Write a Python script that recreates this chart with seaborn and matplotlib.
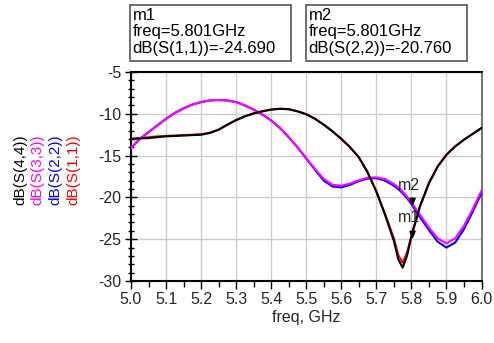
import numpy as np
import pandas as pd
import matplotlib
matplotlib.use("Agg")
import matplotlib.pyplot as plt
from matplotlib.patches import Rectangle
from matplotlib.ticker import MultipleLocator
import seaborn as sns

# ---------------- data ----------------
freq = [5.000, 5.025, 5.050, 5.075, 5.100, 5.125, 5.150, 5.175, 5.200, 5.225,
        5.250, 5.275, 5.300, 5.325, 5.350, 5.375, 5.400, 5.425, 5.450, 5.475,
        5.500, 5.525, 5.550, 5.575, 5.600, 5.625, 5.650, 5.675, 5.700, 5.725,
        5.750, 5.7625, 5.775, 5.7875, 5.800, 5.825, 5.850, 5.875, 5.900, 5.925,
        5.950, 5.975, 6.000]

s11 = [-13.0, -12.9, -12.8, -12.7, -12.65, -12.6, -12.55, -12.5, -12.45, -12.25,
       -11.9, -11.3, -10.75, -10.3, -9.95, -9.7, -9.5, -9.4, -9.45, -9.7,
       -10.05, -10.6, -11.3, -12.1, -13.0, -14.0, -15.2, -17.0, -19.3, -22.0,
       -24.9, -26.9, -27.8, -26.6, -24.7, -21.0, -18.3, -16.3, -14.9, -13.9,
       -13.1, -12.4, -11.7]

s44 = [-13.0, -12.95, -12.9, -12.8, -12.7, -12.65, -12.6, -12.55, -12.5, -12.3,
       -11.9, -11.3, -10.75, -10.3, -9.95, -9.7, -9.5, -9.4, -9.45, -9.7,
       -10.05, -10.6, -11.3, -12.1, -13.0, -14.0, -15.2, -17.0, -19.3, -22.1,
       -25.2, -27.4, -28.4, -27.0, -24.6, -21.0, -18.3, -16.3, -14.9, -13.9,
       -13.1, -12.4, -11.7]

s33 = [-14.1, -13.0, -12.2, -11.4, -10.6, -9.9, -9.35, -8.9, -8.6, -8.4,
       -8.35, -8.4, -8.6, -9.0, -9.5, -10.1, -10.8, -11.7, -12.8, -14.0,
       -15.3, -16.6, -17.8, -18.5, -18.6, -18.35, -17.95, -17.65, -17.6, -17.8,
       -18.4, -18.8, -19.3, -19.9, -20.6, -22.1, -23.6, -24.9, -25.5, -24.9,
       -23.4, -21.4, -19.2]

s22 = [-14.1, -13.0, -12.2, -11.4, -10.6, -9.9, -9.35, -8.9, -8.6, -8.4,
       -8.35, -8.4, -8.6, -9.0, -9.5, -10.1, -10.8, -11.7, -12.8, -14.0,
       -15.35, -16.7, -18.0, -18.7, -18.8, -18.5, -18.05, -17.75, -17.7, -18.0,
       -18.6, -19.0, -19.5, -20.1, -20.8, -22.4, -23.9, -25.3, -26.0, -25.4,
       -23.8, -21.7, -19.5]

series_names = ["dB(S(1,1))", "dB(S(2,2))", "dB(S(3,3))", "dB(S(4,4))"]
series_colors = ["#ff0000", "#0000ff", "#ff00ff", "#000000"]

marker_names = ["m1", "m2"]
marker_freq = [5.801, 5.801]
marker_vals = [-24.690, -20.760]
marker_traces = ["dB(S(1,1))", "dB(S(2,2))"]

x_ticks = [5.0, 5.1, 5.2, 5.3, 5.4, 5.5, 5.6, 5.7, 5.8, 5.9, 6.0]
y_ticks = [-30, -25, -20, -15, -10, -5]

# ---------------- figure ----------------
sns.set_theme(style="white")
plt.rcParams["font.family"] = ["Liberation Sans", "DejaVu Sans"]

W, H = 494, 343
fig = plt.figure(figsize=(W / 100, H / 100), dpi=100)
ax = fig.add_axes([131 / W, 1 - 281 / H, 350.5 / W, 209 / H])

df = pd.DataFrame({
    "freq": np.tile(freq, 4),
    "val": np.concatenate([s11, s22, s33, s44]),
    "trace": np.repeat(series_names, len(freq)),
})
palette = dict(zip(series_names, series_colors))
sns.lineplot(data=df, x="freq", y="val", hue="trace", hue_order=series_names,
             palette=palette, linewidth=1.5, legend=False, ax=ax, zorder=3)

ax.set_xlim(5.0, 6.0)
ax.set_ylim(-30, -5)
ax.set_xticks(x_ticks)
ax.set_xticklabels([f"{t:.1f}" for t in x_ticks])
ax.set_yticks(y_ticks)
ax.set_yticklabels([str(t) for t in y_ticks])
ax.xaxis.set_minor_locator(MultipleLocator(0.05))
ax.yaxis.set_minor_locator(MultipleLocator(1))
ax.grid(True, which="major", color="#cccccc", linewidth=1.0, zorder=0)
ax.tick_params(axis="x", which="major", direction="out", length=6, width=1,
               color="black", labelsize=11.5, pad=2, bottom=True)
ax.tick_params(axis="x", which="minor", direction="out", length=4, width=1,
               color="black", bottom=True)
ax.tick_params(axis="y", which="major", direction="inout", length=8, width=1,
               color="black", labelsize=11.5, pad=3, left=True)
ax.tick_params(axis="y", which="minor", direction="inout", length=5, width=1,
               color="black", left=True)
for s in ["top", "bottom", "left"]:
    ax.spines[s].set_color("black")
    ax.spines[s].set_linewidth(1.5)
ax.spines["right"].set_color("#777777")
ax.spines["right"].set_linewidth(1.5)

ax.set_xlabel("freq, GHz", fontsize=11.5, labelpad=2)
ax.set_ylabel("")

# stacked, coloured y labels
label_x = [20, 37, 55, 73]
for name, col, xp in zip(series_names[::-1], series_colors[::-1], label_x):
    fig.text(xp / W, 1 - 170 / H, name, rotation=90, color=col, fontsize=11,
             ha="center", va="center")

# markers on traces
tri = [(-0.55, 1.3), (0.55, 1.3), (0.0, 0.0), (-0.55, 1.3)]
for nm, f, v in zip(marker_names, marker_freq, marker_vals):
    ax.plot([f], [v], marker=tri, markersize=9, color="black",
            linestyle="none", zorder=5)
    ax.annotate(nm, (f, v), xytext=(-2, 8), textcoords="offset points",
                ha="center", va="bottom", fontsize=11.5, zorder=6)

# marker readout boxes
box_left = [130, 306]
for nm, f, v, tr, bx in zip(marker_names, marker_freq, marker_vals,
                            marker_traces, box_left):
    fig.patches.append(Rectangle((bx / W, 1 - 61 / H), 161 / W, 56 / H,
                                 transform=fig.transFigure, fill=False,
                                 edgecolor="#555555", linewidth=1.2))
    lines = [nm, f"freq={f:.3f}GHz", f"{tr}={v:.3f}"]
    for i, t in enumerate(lines):
        fig.text((bx + 2.5) / W, 1 - (15 + 16.5 * i) / H, t, fontsize=12,
                 ha="left", va="center", color="black")

fig.savefig("out.png", dpi=100)
